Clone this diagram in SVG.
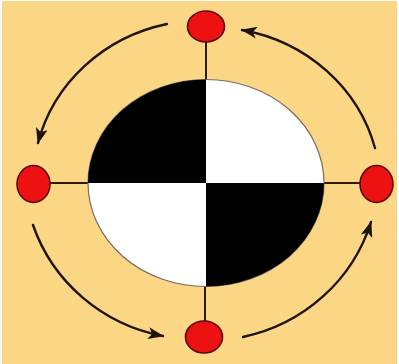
<svg xmlns="http://www.w3.org/2000/svg" width="399" height="364" viewBox="0 0 399 364">
  <defs>
    <style>
      .conn { fill: none; stroke: #1e140a; stroke-width: 2.4; stroke-linecap: round; }
      .spoke { fill: none; stroke: #2a1c10; stroke-width: 2; }
      .dot { fill: #ee1111; stroke: #5a0a0a; stroke-width: 1.6; }
    </style>
    <marker id="ah" viewBox="0 0 16 12" refX="15" refY="6" markerWidth="16" markerHeight="12" markerUnits="userSpaceOnUse" orient="auto">
      <path d="M0,0 L16,6 L0,12 L4,6 Z" fill="#1e140a"/>
    </marker>
  </defs>
  <rect x="0" y="0" width="399" height="364" fill="#ffffff"/>
  <rect x="2" y="1" width="395" height="363" fill="#fbd685"/>

  <g id="connectors">
    <line class="spoke" x1="206" y1="42" x2="206" y2="80"/>
    <line class="spoke" x1="205" y1="286" x2="205" y2="321"/>
    <line class="spoke" x1="50" y1="183" x2="88" y2="183"/>
    <line class="spoke" x1="324" y1="183" x2="360" y2="183"/>
    <path class="conn" d="M167,24 A170,162 0 0 0 38,143" marker-end="url(#ah)"/>
    <path class="conn" d="M375,148 A170,162 0 0 0 242,30" marker-end="url(#ah)"/>
    <path class="conn" d="M33,225 A172,168 0 0 0 163,336" marker-end="url(#ah)"/>
    <path class="conn" d="M243,337 A172,168 0 0 0 371,222" marker-end="url(#ah)"/>
  </g>

  <g id="target">
    <ellipse cx="206" cy="183" rx="118" ry="103.5" fill="#ffffff" stroke="#7a6a60" stroke-width="1.2"/>
    <path d="M206,183 L88,183 A118,103.5 0 0 1 206,79.5 Z" fill="#000000"/>
    <path d="M206,183 L324,183 A118,103.5 0 0 1 206,286.5 Z" fill="#000000"/>
  </g>

  <g id="node-top"><ellipse class="dot" cx="206" cy="26.5" rx="18.5" ry="15.5"/></g>
  <g id="node-left"><ellipse class="dot" cx="33.5" cy="184" rx="16.5" ry="18.5"/></g>
  <g id="node-right"><ellipse class="dot" cx="376.5" cy="184" rx="16.5" ry="18.5"/></g>
  <g id="node-bottom"><ellipse class="dot" cx="204" cy="337" rx="18.5" ry="16"/></g>
</svg>
